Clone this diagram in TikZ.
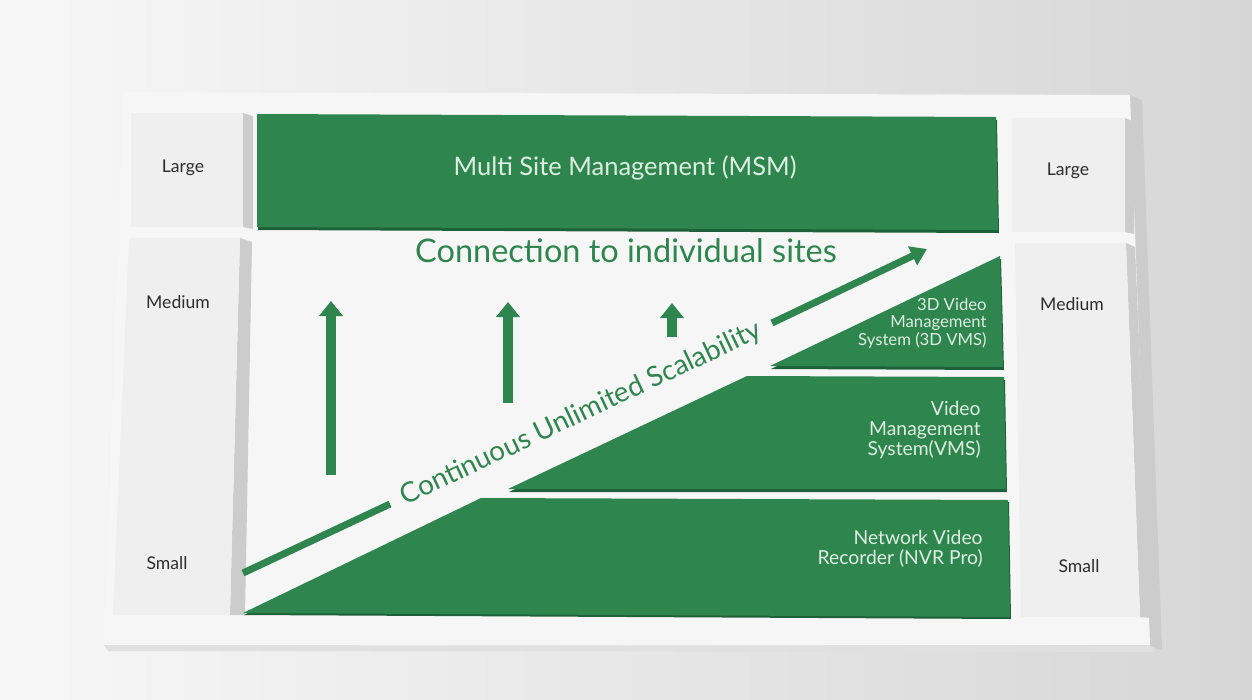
\documentclass[tikz,border=0pt]{standalone}
\usepackage{fontspec}
\setmainfont{Lato}
\usepackage{tikz}
\usetikzlibrary{arrows.meta, positioning}

\definecolor{panelgreen}{RGB}{46,134,78}
\definecolor{edgegreen}{RGB}{30,96,55}
\definecolor{paneltext}{RGB}{222,238,224}
\definecolor{boardwhite}{RGB}{246,246,246}
\definecolor{tilewhite}{RGB}{239,239,239}
\definecolor{sidegrey}{RGB}{204,204,204}
\definecolor{labelgrey}{RGB}{45,45,45}

\begin{document}
\begin{tikzpicture}[
    x = 0.02cm, y = -0.02cm, % one unit = one pixel of the picture
    tile/.style = {fill = tilewhite},
    side/.style = {fill = sidegrey},
    panel/.style = {fill = panelgreen},
    paneledge/.style = {fill = edgegreen},
    sizelabel/.style = {anchor = base, text = labelgrey, font = \fontsize{10}{12}\selectfont},
    paneltitle/.style = {anchor = east, align = right, inner sep = 0pt, text = paneltext,
      font = \fontsize{11}{11.3}\selectfont},
    uparrow/.style = {draw = panelgreen, line width = 0.2cm,
      -{Triangle[width = 0.46cm, length = 0.3cm]}},
    bandline/.style = {draw = panelgreen, line width = 0.14cm}
  ]

  % background and board
  \shade[left color = gray!6, right color = gray!32] (0,0) rectangle (1252,700);
  \useasboundingbox (0,0) rectangle (1252,700);
  \fill[black!20] (1130,95) -- (1142,100) -- (1162,650) -- (1150,646) -- cycle;
  \fill[black!12] (104,645) -- (1150,646) -- (1156,652) -- (108,651) -- cycle;
  \fill[boardwhite] (123,92) -- (1130,95) -- (1150,645) -- (104,645) -- cycle;

  % size tiles
  \fill[side] (243,113) -- (253,116) -- (253,229) -- (243,227) -- cycle;
  \fill[tile] (131,113) rectangle (243,227);
  \fill[side] (240,238) -- (252,242) -- (245,615) -- (230,615) -- cycle;
  \fill[tile] (129,238) -- (240,238) -- (230,615) -- (113,615) -- cycle;
  \fill[side] (1125,118) -- (1134,122) -- (1134,234) -- (1125,232) -- cycle;
  \fill[tile] (1012,118) rectangle (1125,232);
  \fill[side] (1126,243) -- (1135,247) -- (1151,618) -- (1140,617) -- cycle;
  \fill[tile] (1015,243) -- (1126,243) -- (1140,617) -- (1021,617) -- cycle;

  \node[sizelabel] (largeL) at (183,172) {Large};
  \node[sizelabel] (mediumL) at (178,308) {Medium};
  \node[sizelabel] (smallL) at (167,569) {Small};
  \node[sizelabel] (largeR) at (1068,175) {Large};
  \node[sizelabel] (mediumR) at (1072,310) {Medium};
  \node[sizelabel] (smallR) at (1079,572) {Small};

  % green panels
  \fill[paneledge, shift = {(1,3)}] (257,114) -- (996,117) -- (998,230) -- (257,227) -- cycle;
  \fill[panel] (257,114) -- (996,117) -- (998,230) -- (257,227) -- cycle;
  \fill[paneledge, shift = {(1,3)}] (770,366) -- (1000,256) -- (1003,367) -- cycle;
  \fill[panel] (770,366) -- (1000,256) -- (1003,367) -- cycle;
  \fill[paneledge, shift = {(1,3)}] (508,489) -- (747,376) -- (1004,377) -- (1006,489) -- cycle;
  \fill[panel] (508,489) -- (747,376) -- (1004,377) -- (1006,489) -- cycle;
  \fill[paneledge, shift = {(1,2)}] (243,613) -- (481,498) -- (1008,500) -- (1010,617) -- cycle;
  \fill[panel] (243,613) -- (481,498) -- (1008,500) -- (1010,617) -- cycle;

  \node[anchor = base, text = paneltext, font = \fontsize{14.5}{16}\selectfont]
    (msm) at (625,175) {Multi Site Management (MSM)};
  \node[paneltitle, font = \fontsize{9.5}{9.9}\selectfont]
    (vms3d) at (987,323) {3D Video\\Management\\System (3D VMS)};
  \node[paneltitle] (vms) at (981,430) {Video\\Management\\System(VMS)};
  \node[paneltitle] (nvr) at (983,549) {Network Video\\Recorder (NVR Pro)};

  % connection to the sites
  \node[anchor = base, text = panelgreen, font = \fontsize{18.5}{20}\selectfont]
    (connect) at (626,262) {Connection to individual sites};
  \coordinate (up1) at (331,301);
  \coordinate (up2) at (508,302);
  \coordinate (up3) at (672,303);
  \draw[uparrow] (331,475) -- (up1);
  \draw[uparrow] (508,403) -- (up2);
  \draw[uparrow] (672,337) -- (up3);

  % scalability band
  \node[rotate = 25.3, text = panelgreen, font = \fontsize{15.8}{17}\selectfont]
    (scale) at (581,414) {Continuous Unlimited Scalability};
  \coordinate (bandStart) at (243,573);
  \coordinate (bandGap) at (390,504);
  \coordinate (bandGo) at (772,323);
  \coordinate (bandEnd) at (927,249);
  \draw[bandline] (bandStart) -- (bandGap);
  \draw[bandline, -{Triangle[width = 0.4cm, length = 0.32cm]}] (bandGo) -- (bandEnd);
\end{tikzpicture}
\end{document}
